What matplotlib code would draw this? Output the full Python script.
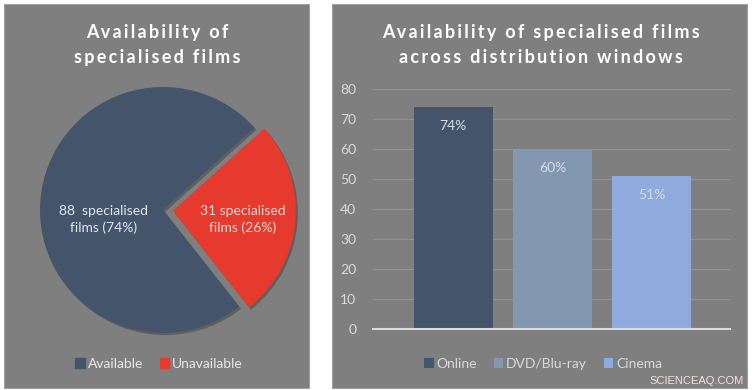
import matplotlib.pyplot as plt
import matplotlib.patheffects as pe
from matplotlib.patches import Rectangle, Patch

plt.rcParams['font.family'] = ['Lato', 'DejaVu Sans']

# pie data
pie_labels = ['Available', 'Unavailable']
pie_counts = [88, 31]
pie_pcts = [74, 26]
pie_colors = ['#44546a', '#e63a2e']

# bar data
windows = ['Online', 'DVD/Blu-ray', 'Cinema']
window_pcts = [74, 60, 51]
bar_colors = ['#44546a', '#8497b0', '#8faadc']

W, H = 754, 390
fig = plt.figure(figsize=(W / 100, H / 100), dpi=100)
fig.patch.set_facecolor('white')

def px(x, y, w, h):
    # pixel box (top-left origin) -> figure fraction
    return [x / W, 1 - (y + h) / H, w / W, h / H]

def spaced(s):
    # fake letter spacing with hair spaces
    return '\u200a\u200a'.join(s)

# grey panels on a background axes
bgax = fig.add_axes([0, 0, 1, 1], zorder=-1)
bgax.set_xlim(0, W)
bgax.set_ylim(H, 0)
bgax.axis('off')
bg = '#7f7f7f'
for x0, y0, x1, y1 in [(4, 4, 309, 388), (332, 4, 747, 388)]:
    bgax.add_patch(Rectangle((x0, y0), x1 - x0, y1 - y0, facecolor=bg,
                             edgecolor='#a0a0a0', lw=0.8))

# ---- left panel: pie
R = 123
cx, cy = 163, 210
s = R * 1.1
ax1 = fig.add_axes(px(cx - s, cy - s, 2 * s, 2 * s))
ax1.set_facecolor('none')
wedges, _ = ax1.pie(pie_counts, colors=pie_colors, startangle=42, counterclock=True,
                    explode=[0, 0.08], radius=1,
                    wedgeprops=dict(linewidth=0))
for w in wedges:
    w.set_path_effects([pe.SimplePatchShadow(offset=(1.5, -1.5), shadow_rgbFace='black',
                                             alpha=0.25), pe.Normal()])
ax1.set_xlim(-1.1, 1.1)
ax1.set_ylim(-1.1, 1.1)
ax1.set_aspect('equal')
ax1.axis('off')
ax1.text(-0.48, -0.08, f'{pie_counts[0]}  specialised\nfilms ({pie_pcts[0]}%)',
         ha='center', va='center', color='#dfe5ee', fontsize=10, linespacing=1.4)
ax1.text(0.65, -0.08, f'{pie_counts[1]} specialised\nfilms ({pie_pcts[1]}%)',
         ha='center', va='center', color='#f6d6d2', fontsize=10, linespacing=1.4)

fig.text(157 / W, 1 - 45 / H, spaced('Availability of') + '\n' + spaced('specialised films'),
         ha='center', va='center', color='white', fontsize=13, fontweight='bold',
         linespacing=1.6)
pie_handles = [Patch(color=c) for c in pie_colors]
fig.legend(pie_handles, pie_labels, loc='center', bbox_to_anchor=(159 / W, 1 - 364 / H),
           ncol=2, frameon=False, fontsize=10, handlelength=0.7, handleheight=0.7,
           handletextpad=0.2, columnspacing=1.2, labelcolor='#e8e8e8')

# ---- right panel: bars
ax2 = fig.add_axes(px(373, 89, 357, 240))
ax2.set_facecolor('none')
xs = range(len(windows))
bars = ax2.bar(xs, window_pcts, width=0.8, color=bar_colors, label=windows, zorder=2)
ax2.set_xlim(-0.81, 2.79)
ax2.set_ylim(0, 80)
ax2.set_yticks(range(0, 81, 10))
ax2.set_xticks([])
ax2.tick_params(axis='y', length=0, colors='#dadada', labelsize=10, pad=12)
ax2.grid(axis='y', color='#939393', lw=0.8, zorder=0)
for sp in ['top', 'right', 'left']:
    ax2.spines[sp].set_visible(False)
ax2.spines['bottom'].set_color('#d9d9d9')
ax2.spines['bottom'].set_linewidth(1.5)
for b, v in zip(bars, window_pcts):
    ax2.annotate(f'{v}%', (b.get_x() + b.get_width() / 2, v), xytext=(0, -14),
                 textcoords='offset points', ha='center', va='center',
                 color='#d6dce5', fontsize=10)

fig.text(541 / W, 1 - 45 / H,
         spaced('Availability of specialised films') + '\n' + spaced('across distribution windows'),
         ha='center', va='center', color='white', fontsize=13, fontweight='bold',
         linespacing=1.6)
fig.legend(bars, windows, loc='center', bbox_to_anchor=(543 / W, 1 - 364 / H),
           ncol=3, frameon=False, fontsize=10, handlelength=0.7, handleheight=0.7,
           handletextpad=0.2, columnspacing=1.2, labelcolor='#dadada')

fig.text(697 / W, 1 - 381 / H, 'SCIENCEAQ.COM', ha='center', va='center',
         color='#f3e2e2', fontsize=8, family='Liberation Sans')

plt.savefig('out.png', dpi=100)
